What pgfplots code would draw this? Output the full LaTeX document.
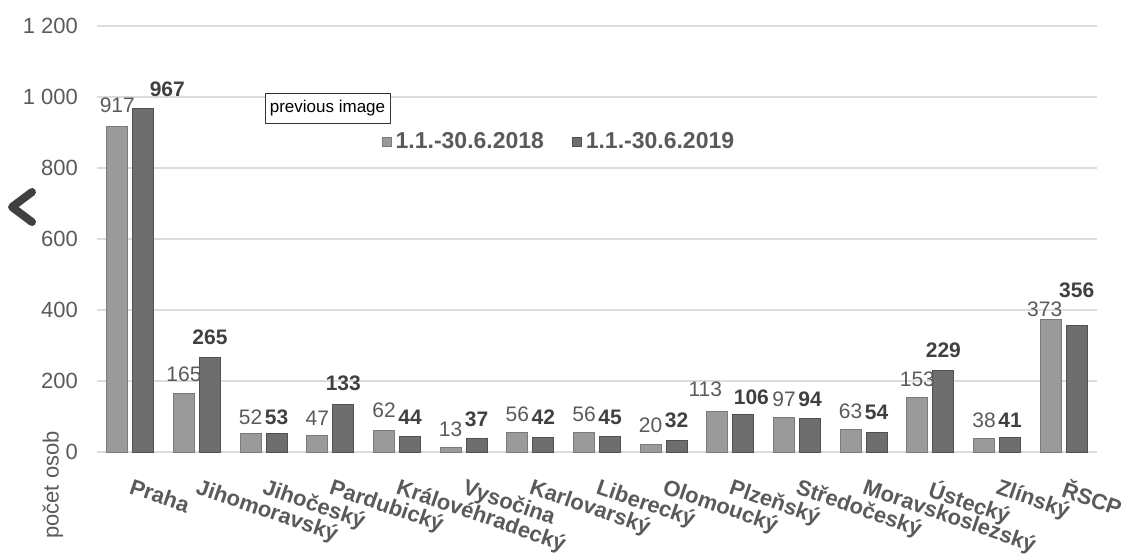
\documentclass[border=0pt]{standalone}
\usepackage{fontspec}
\setmainfont{Liberation Sans}
\usepackage{pgfplots}
\usepackage{pgfplotstable}
\pgfplotsset{compat=1.18}

\definecolor{barA}{HTML}{9A9A9A}
\definecolor{barAedge}{HTML}{7A7A7A}
\definecolor{barB}{HTML}{6E6E6E}
\definecolor{barBedge}{HTML}{505050}
\definecolor{gridc}{HTML}{DCDCDC}
\definecolor{txt}{HTML}{5A5A5A}

% x = category index, y = value, dx/dy = label offsets in pt
\pgfplotstableread{
x y dx dy
0 917 0 6.75
1 165 0 5.5
2 52 0 4.25
3 47 0 4.5
4 62 0 6
5 13 0 5
6 56 0 5
7 56 0 5
8 20 0 6
9 113 -6 7.5
10 97 0 5
11 63 0 5
12 153 0 5.3
13 38 0 5
14 373 -3 1.3
}\first

\pgfplotstableread{
x y dx dy
0 967 12 6
1 265 0 6.5
2 53 0 4
3 133 0 7
4 44 0 5.5
5 37 0 6
6 42 0 6
7 45 0 5.5
8 32 0 6
9 106 4 4.5
10 94 0 5.8
11 54 0 6.4
12 229 0 6.4
13 41 0 4.7
14 356 0 13.8
}\second

\pgfplotsset{
  labelshift/.style={
    visualization depends on={\thisrow{dx} \as \myDx},
    visualization depends on={\thisrow{dy} \as \myDy},
    nodes near coords,
    every node near coord/.append style={anchor=south, inner sep=0pt, xshift=\myDx pt, yshift=\myDy pt},
  },
}

\begin{document}
\begin{tikzpicture}
\useasboundingbox (-48.5pt,-53.5pt) rectangle (513pt,226pt);
\begin{axis}[
    at={(0,0)}, anchor=south west,
    scale only axis,
    width=500pt, height=213pt,
    ybar=2.5pt,
    bar width=10.5pt,
    xmin=-0.5, xmax=14.5,
    ymin=0, ymax=1200,
    axis lines*=left,
    x axis line style={draw=gridc, line width=0.8pt},
    y axis line style={draw=none},
    tick style={draw=none},
    ymajorgrids,
    grid style={draw=gridc, line width=0.7pt},
    ytick={0,200,...,1200},
    yticklabels={0,200,400,600,800,1 000,1 200},
    yticklabel style={font=\fontsize{11}{13}\selectfont, text=txt, xshift=-6pt},
    xtick={0,...,14},
    xticklabels={Praha,Jihomoravský,Jihočeský,Pardubický,Královéhradecký,Vysočina,Karlovarský,Liberecký,Olomoucký,Plzeňský,Středočeský,Moravskoslezský,Ústecký,Zlínský,ŘSCP},
    xticklabel style={font=\bfseries\fontsize{11}{13}\selectfont, text=txt, inner sep=0pt,
        xshift=1.5pt, yshift=-8.5pt, rotate=-19, anchor=north west},
    /pgf/number format/assume math mode=true,
    legend style={at={(0.463,0.728)}, anchor=center, draw=none, fill=none,
        font=\bfseries\fontsize{11.5}{13}\selectfont, text=txt,
        legend columns=2, /tikz/every even column/.append style={column sep=12pt}},
    legend image code/.code={\draw[#1] (0pt,-2.2pt) rectangle (4.4pt,2.2pt);},
]
\addplot[fill=barA, draw=barAedge, line width=0.5pt, labelshift,
    every node near coord/.append style={font=\fontsize{10.5}{12}\selectfont, text=txt}]
    table[x=x, y=y] {\first};
\addplot[fill=barB, draw=barBedge, line width=0.5pt, labelshift,
    every node near coord/.append style={font=\bfseries\fontsize{10.5}{12}\selectfont, text=black!75}]
    table[x=x, y=y] {\second};
\legend{1.1.-30.6.2018, 1.1.-30.6.2019}
\end{axis}
\node[rotate=90, text=txt, font=\fontsize{11}{13}\selectfont] at (-22pt,-16.5pt) {počet osob};
\node[draw=black!80, fill=white, line width=0.5pt, minimum width=62.5pt, minimum height=15pt,
    inner sep=1pt, font=\fontsize{8.5}{10}\selectfont] at (115.25pt,172pt) {previous image};
\draw[black!75, line width=4pt, line cap=round, line join=round]
    (-32.5pt,130pt) -- (-42.5pt,122.5pt) -- (-32.5pt,115pt);
\end{tikzpicture}
\end{document}
